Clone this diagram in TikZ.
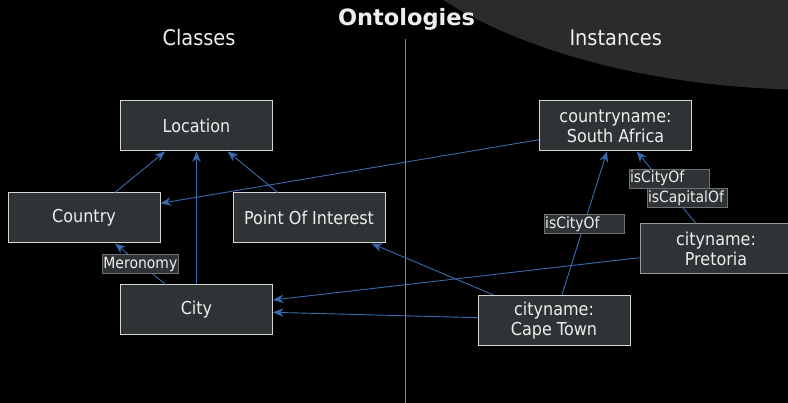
\documentclass[tikz,border=0pt]{standalone}
\usepackage{fontspec}
\setmainfont{DejaVu Sans}[FakeStretch=0.9]
\newfontfamily\titlefont{DejaVu Sans}
\usetikzlibrary{arrows.meta}
\definecolor{boxfill}{HTML}{2E3436}
\definecolor{boxdraw}{HTML}{D3D7CF}
\definecolor{boxdrawdim}{HTML}{9A9A98}
\definecolor{labdraw}{HTML}{707070}
\definecolor{txt}{HTML}{EEEEEC}
\definecolor{edgecol}{HTML}{3A6AAE}
\definecolor{ellcol}{HTML}{2B2B2B}
\definecolor{divider}{HTML}{8A8A88}
\tikzset{
  classbox/.style={draw=boxdraw, fill=boxfill, line width=1pt, minimum width=152pt, minimum height=50pt,
    inner sep=0pt, text=txt, align=center, font=\fontsize{17.8}{19.8}\selectfont},
  rel/.style={draw=edgecol, line width=0.9pt, -{Stealth[length=10.5pt,width=8.5pt]}},
  lab/.style={draw=labdraw, fill=boxfill, line width=1pt, minimum height=19pt, inner sep=1pt, text=txt,
    font=\fontsize{15.5}{17}\selectfont},
  leftlab/.style={lab, text width=78pt, align=left},
  heading/.style={text=txt, anchor=base, font=\fontsize{21.5}{24}\selectfont, inner sep=0pt}
}
\begin{document}
\begin{tikzpicture}[x=1pt,y=-1pt]
\useasboundingbox (0,0) rectangle (788,403);
\clip (0,0) rectangle (788,403);
\fill[black] (0,0) rectangle (788,403);
\fill[ellcol] (820,-130) ellipse [x radius=467pt, y radius=220pt];

% headings and divider
\node[text=txt, anchor=base, inner sep=0pt, font=\titlefont\bfseries\fontsize{22.5}{25}\selectfont] (title) at (406.5,26) {Ontologies};
\node[heading] (classes) at (199,45.7) {Classes};
\node[heading] (instances) at (615.7,45.7) {Instances};
\coordinate (divtop) at (405.7,39);
\coordinate (divbot) at (405.7,403);
\draw[divider, line width=1.3pt] (divtop) -- (divbot);

% class nodes
\node[classbox] (loc) at (196.5,126) {Location};
\node[classbox] (country) at (84,218) {Country};
\node[classbox] (poi) at (309,218) {Point Of Interest};
\node[classbox] (city) at (196.5,310) {City};

% instance nodes
\node[classbox] (sa) at (615.5,126) {countryname:\\South Africa};
\node[classbox, draw=boxdrawdim] (pta) at (716,249) {cityname:\\Pretoria};
\node[classbox] (ct) at (554,320.3) {cityname:\\Cape Town};

% connectors
\draw[rel] ([xshift=31pt]country.north) -- ([xshift=-31.5pt]loc.south);
\draw[rel] (city.north) -- (loc.south);
\draw[rel] ([xshift=-31.3pt]poi.north) -- ([xshift=31.2pt]loc.south);
\draw[rel] ([yshift=-13.7pt]sa.west) -- ([yshift=14.7pt]country.east);
\draw[rel] ([xshift=-30.8pt]city.north) -- node[lab, pos=0.5] (mero) {Meronomy} ([xshift=31pt]country.south);
\draw[rel] ([yshift=-8.7pt]pta.west) -- ([yshift=10pt]city.east);
\draw[rel] ([yshift=2.6pt]ct.west) -- ([yshift=-2.3pt]city.east);
\draw[rel] ([xshift=-61pt]ct.north) -- ([xshift=62.7pt]poi.south);
\draw[rel] ([xshift=8pt]ct.north) -- node[leftlab, pos=0.493] (lcity1) {isCityOf} ([xshift=-8.5pt]sa.south);
\draw[rel] ([xshift=-20pt]pta.north) --
   node[leftlab, pos=0.354, xshift=12pt] (lcap) {isCapitalOf}
   node[leftlab, pos=0.624, xshift=10pt] (lcity2) {isCityOf}
   ([xshift=21.2pt]sa.south);
\end{tikzpicture}
\end{document}
